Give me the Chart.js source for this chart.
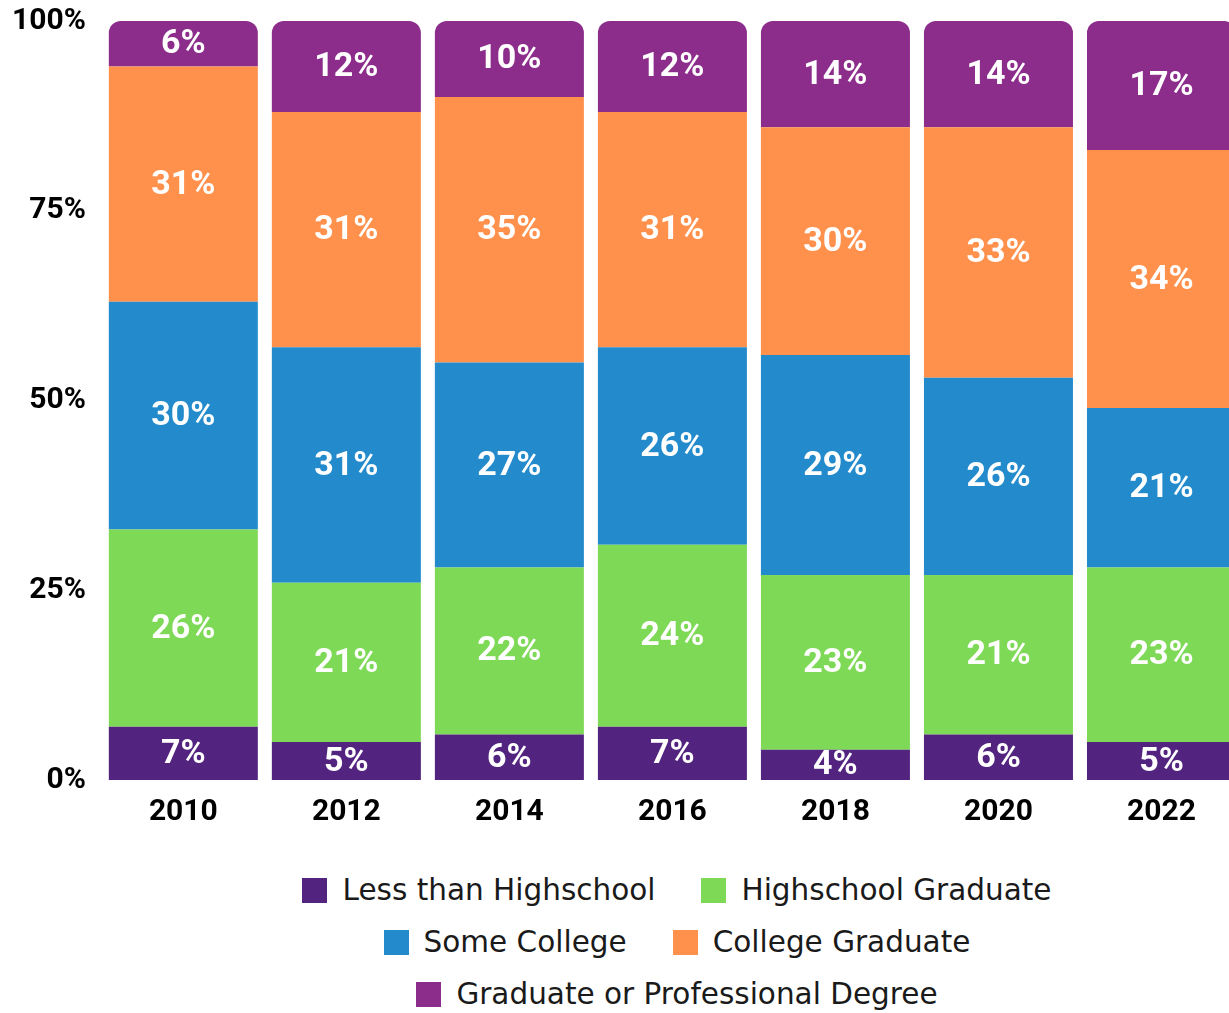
<!DOCTYPE html>
<html>
<head>
<meta charset="utf-8">
<script src="https://cdn.jsdelivr.net/npm/chart.js@4.4.1/dist/chart.umd.min.js"></script>
<style>
  html, body { margin: 0; padding: 0; background: #fff; overflow: hidden; }
  #wrap { width: 1245px; }
  #chart { display: block; margin-top: -13px; }
  #legend {
    width: 840px;
    margin: 20px 0 0 257px;
    display: flex;
    flex-wrap: wrap;
    justify-content: center;
    column-gap: 46px;
    font-family: "DejaVu Sans", sans-serif;
    font-size: 29.5px;
    color: #1a1a1a;
  }
  .item { display: flex; align-items: center; height: 52px; }
  .box { width: 25px; height: 25px; margin-right: 15px; }
</style>
</head>
<body>
<div id="wrap">
  <canvas id="chart" width="1245" height="857"></canvas>
  <div id="legend"></div>
</div>
<script>
// years on the x axis
const years = ['2010', '2012', '2014', '2016', '2018', '2020', '2022'];

// share of each education level, percent
const lessThanHighschool = [7, 5, 6, 7, 4, 6, 5];
const highschoolGraduate = [26, 21, 22, 24, 23, 21, 23];
const someCollege = [30, 31, 27, 26, 29, 26, 21];
const collegeGraduate = [31, 31, 35, 31, 30, 33, 34];
const graduateDegree = [6, 12, 10, 12, 14, 14, 17];

const yTicks = [0, 25, 50, 75, 100];

const series = [
  { label: 'Less than Highschool', data: lessThanHighschool, color: '#52247f' },
  { label: 'Highschool Graduate', data: highschoolGraduate, color: '#7ed957' },
  { label: 'Some College', data: someCollege, color: '#238bcc' },
  { label: 'College Graduate', data: collegeGraduate, color: '#ff914d' },
  { label: 'Graduate or Professional Degree', data: graduateDegree, color: '#8c2c8b' }
];

// white % labels in the middle of each segment
const segmentLabels = {
  id: 'segmentLabels',
  afterDatasetsDraw(chart) {
    const ctx = chart.ctx;
    const area = chart.chartArea;
    ctx.save();
    ctx.beginPath();
    ctx.rect(area.left, area.top, area.right - area.left, area.bottom - area.top);
    ctx.clip();
    ctx.fillStyle = '#fff';
    ctx.font = 'bold 34px Roboto';
    ctx.textAlign = 'center';
    ctx.textBaseline = 'middle';
    chart.data.datasets.forEach((ds, i) => {
      chart.getDatasetMeta(i).data.forEach((bar, j) => {
        const y = (bar.y + bar.base) / 2;
        ctx.fillText(ds.data[j] + '%', bar.x, y + 1);
      });
    });
    ctx.restore();
  }
};

const last = series.length - 1;

function draw() {
  new Chart(document.getElementById('chart'), {
    type: 'bar',
    data: {
      labels: years,
      datasets: series.map((s, i) => ({
        label: s.label,
        data: s.data,
        backgroundColor: s.color,
        borderWidth: 0,
        borderRadius: i === last ? { topLeft: 12, topRight: 12, bottomLeft: 0, bottomRight: 0 } : 0,
        borderSkipped: 'start',
        barPercentage: 0.914,
        categoryPercentage: 1
      }))
    },
    options: {
      responsive: false,
      animation: false,
      layout: { padding: { left: -4, right: 2, top: 0, bottom: 0 } },
      plugins: {
        legend: { display: false },
        tooltip: { enabled: false }
      },
      scales: {
        x: {
          stacked: true,
          grid: { display: false, drawTicks: false },
          border: { display: false },
          ticks: {
            color: '#000',
            padding: 14,
            font: { family: 'Roboto', weight: 'bold', size: 30 }
          }
        },
        y: {
          stacked: true,
          min: 0,
          max: 100,
          afterBuildTicks(scale) {
            scale.ticks = yTicks.map(v => ({ value: v }));
          },
          grid: { display: false, drawTicks: false },
          border: { display: false },
          ticks: {
            color: '#000',
            padding: 16,
            font: { family: 'Roboto', weight: 'bold', size: 30 },
            callback: v => v + '%'
          }
        }
      }
    },
    plugins: [segmentLabels]
  });
}

document.fonts.load('bold 30px Roboto').then(draw, draw);

// html legend so the items wrap 2 / 2 / 1 like the original
const legend = document.getElementById('legend');
series.forEach(s => {
  const item = document.createElement('div');
  item.className = 'item';
  const box = document.createElement('span');
  box.className = 'box';
  box.style.background = s.color;
  const text = document.createElement('span');
  text.textContent = s.label;
  item.appendChild(box);
  item.appendChild(text);
  legend.appendChild(item);
});
</script>
</body>
</html>
